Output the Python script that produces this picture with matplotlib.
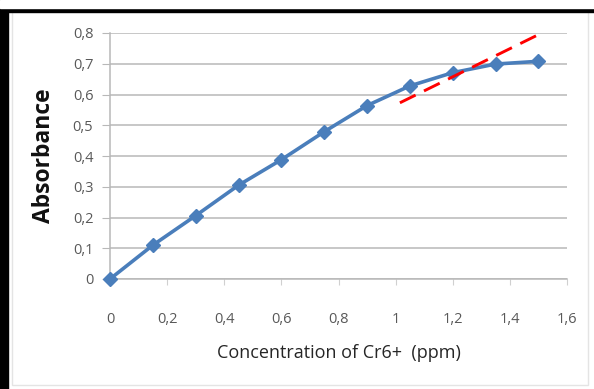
import matplotlib.pyplot as plt
from matplotlib.patches import Rectangle

# data
concentration = [0, 0.15, 0.3, 0.45, 0.6, 0.75, 0.9, 1.05, 1.2, 1.35, 1.5]
absorbance = [0, 0.11, 0.206, 0.305, 0.388, 0.479, 0.564, 0.628, 0.671, 0.699, 0.708]

# red dashed guide line (end points)
guide_x = [1.015, 1.516]
guide_y = [0.573, 0.802]

x_ticks = [0, 0.2, 0.4, 0.6, 0.8, 1.0, 1.2, 1.4, 1.6]
y_ticks = [0, 0.1, 0.2, 0.3, 0.4, 0.5, 0.6, 0.7, 0.8]


def comma(v):
    s = ('%.1f' % v).replace('.', ',')
    if s.endswith(',0'):
        s = s[:-2]
    return s


W, H = 594, 389
fig = plt.figure(figsize=(W / 100, H / 100), dpi=100)
fig.patch.set_facecolor('white')

# plot area in pixels: x 110..567, y 33..279
ax = fig.add_axes([110 / W, 1 - 279 / H, (567 - 110) / W, (279 - 33) / H])
ax.set_xlim(0, 1.6)
ax.set_ylim(0, 0.8)

ax.plot(concentration, absorbance, color='#4a7ebb', lw=2.6, marker='D',
        markersize=7.5, markerfacecolor='#4a7ebb', markeredgecolor='#4a7ebb',
        zorder=3, clip_on=False)
ax.plot(guide_x, guide_y, color='#ff0000', lw=2.1, dashes=(6, 3.2), zorder=4,
        clip_on=False)

ax.set_xticks(x_ticks)
ax.set_yticks(y_ticks)
ax.set_xticklabels([comma(v) for v in x_ticks])
ax.set_yticklabels([comma(v) for v in y_ticks])

ax.grid(axis='y', color='#b8b8b8', lw=1.1)
ax.set_axisbelow(True)
for side in ['top', 'right']:
    ax.spines[side].set_visible(False)
ax.spines['left'].set_color('#b8b8b8')
ax.spines['bottom'].set_color('#b8b8b8')
ax.spines['left'].set_linewidth(1.1)
ax.spines['bottom'].set_linewidth(1.1)

ax.tick_params(axis='y', length=6, color='#b8b8b8', pad=6,
               labelsize=10.5, labelcolor='#595959')
ax.tick_params(axis='x', length=4, color='#d0d0d0', pad=20,
               labelsize=10.5, labelcolor='#595959')
for lab in ax.get_xticklabels() + ax.get_yticklabels():
    lab.set_fontfamily('Open Sans')

ax.set_xlabel('Concentration of Cr6+  (ppm)', fontsize=13, family='Open Sans',
              color='#262626', labelpad=12)
ax.set_ylabel('Absorbance', fontsize=16.5, fontweight='bold', family='Open Sans',
              color='#111111', labelpad=12)

# frame around the chart
fig.add_artist(Rectangle((0, 0), 8 / W, 1, transform=fig.transFigure,
                         color='black', zorder=10))
fig.add_artist(Rectangle((0, 1 - 12 / H), 1, 4 / H, transform=fig.transFigure,
                         color='black', zorder=10))
fig.add_artist(Rectangle((0, 1 - 8 / H), 1, 8 / H, transform=fig.transFigure,
                         color='white', zorder=10))
fig.add_artist(Rectangle((12 / W, 4 / H), (588 - 12) / W, (374) / H,
                         transform=fig.transFigure, fill=False,
                         edgecolor='#e4e4e4', lw=1, zorder=9))

fig.savefig('out.png', dpi=100)
